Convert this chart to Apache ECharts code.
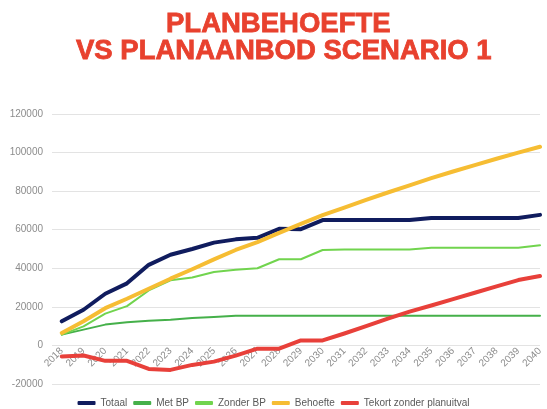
<!DOCTYPE html>
<html>
<head>
<meta charset="utf-8">
<script src="https://cdn.jsdelivr.net/npm/echarts@6/dist/echarts.min.js"></script>
<style>
  html, body { margin: 0; padding: 0; background: #fff; }
  #chart { width: 547px; height: 409px; }
</style>
</head>
<body>
<div id="chart"></div>
<script>
// jaartallen
const years = [2018, 2019, 2020, 2021, 2022, 2023, 2024, 2025, 2026, 2027, 2028,
  2029, 2030, 2031, 2032, 2033, 2034, 2035, 2036, 2037, 2038, 2039, 2040]

// waarden
const totaal = [12500, 18500, 26800, 32200, 41800, 47000, 50000, 53300, 55000, 55800, 60500,
  60300, 65000, 65000, 65000, 65000, 65000, 66100, 66100, 66100, 66100, 66100, 67700]
const metBP = [5600, 8200, 10800, 12000, 12800, 13300, 14200, 14800, 15400, 15400, 15400,
  15400, 15400, 15400, 15400, 15400, 15400, 15400, 15400, 15400, 15400, 15400, 15400]
const zonderBP = [5600, 9900, 16500, 20400, 28500, 33800, 35200, 38100, 39200, 40000, 44700,
  44700, 49500, 49700, 49700, 49700, 49700, 50700, 50700, 50700, 50700, 50700, 51900]
const behoefte = [6500, 12500, 19300, 24200, 29400, 34600, 39500, 44600, 49500, 53600, 58400,
  63000, 67600, 71500, 75500, 79300, 83000, 86700, 90200, 93500, 96800, 100000, 103000]
const tekort = [-5700, -5200, -8000, -8000, -12200, -12700, -10100, -8400, -5300, -1700, -1700,
  2600, 2600, 6200, 10000, 13900, 17500, 20700, 24000, 27300, 30600, 33900, 36000]

const yMin = -20000
const yMax = 120000

const pairs = (vals) => years.map((y, i) => [y, vals[i]])

const myChart = echarts.init(document.getElementById('chart'))

const gridTop = 114
const gridBottom = 25
const gridHeight = 409 - gridTop - gridBottom
// jaartallen op de nul-lijn zetten
const zeroOffset = -gridHeight * (0 - yMin) / (yMax - yMin)

const lineSeries = (name, vals, color, width) => ({
  name: name,
  type: 'line',
  data: pairs(vals),
  symbol: 'none',
  color: color,
  lineStyle: { color: color, width: width, join: 'round', cap: 'round' }
})

const titleStyle = {
  fontFamily: 'Liberation Sans',
  fontWeight: 'bold',
  fontSize: 27.5,
  lineHeight: 27,
  color: '#e8412e',
  textBorderColor: '#e8412e',
  textBorderWidth: 0.8
}

const option = {
  animation: false,
  title: [
    { text: 'PLANBEHOEFTE', left: 161, top: 6, textStyle: titleStyle },
    { text: 'VS PLANAANBOD SCENARIO 1', left: 71, top: 33, textStyle: titleStyle }
  ],
  legend: {
    bottom: 1,
    left: 'center',
    padding: 0,
    icon: 'roundRect',
    itemWidth: 18,
    itemHeight: 4,
    itemGap: 6,
    textStyle: { color: '#595959', fontSize: 10, fontFamily: 'Liberation Sans' },
    data: ['Totaal', 'Met BP', 'Zonder BP', 'Behoefte', 'Tekort zonder planuitval']
  },
  grid: {
    left: 52,
    right: 7,
    top: gridTop,
    bottom: gridBottom,
    outerBoundsMode: 'none'
  },
  xAxis: {
    type: 'value',
    min: 2017.55,
    max: 2040,
    offset: zeroOffset,
    axisLine: { show: false, onZero: false },
    axisTick: { show: false },
    splitLine: { show: false },
    axisLabel: {
      customValues: years,
      rotate: 45,
      margin: 4,
      color: '#8c8c8c',
      fontSize: 10,
      fontFamily: 'Liberation Sans',
      formatter: (v) => String(v)
    }
  },
  yAxis: {
    type: 'value',
    min: yMin,
    max: yMax,
    interval: 20000,
    axisLine: { show: false },
    axisTick: { show: false },
    splitLine: { lineStyle: { color: '#e3e3e3' } },
    axisLabel: {
      margin: 9,
      color: '#8c8c8c',
      fontSize: 10,
      fontFamily: 'Liberation Sans',
      formatter: (v) => String(v)
    }
  },
  series: [
    lineSeries('Totaal', totaal, '#101c5e', 4),
    lineSeries('Met BP', metBP, '#45b04a', 2),
    lineSeries('Zonder BP', zonderBP, '#71d44e', 2),
    lineSeries('Behoefte', behoefte, '#f6bd33', 4),
    lineSeries('Tekort zonder planuitval', tekort, '#e8403a', 4)
  ]
}
myChart.setOption(option, true)
</script>
</body>
</html>
